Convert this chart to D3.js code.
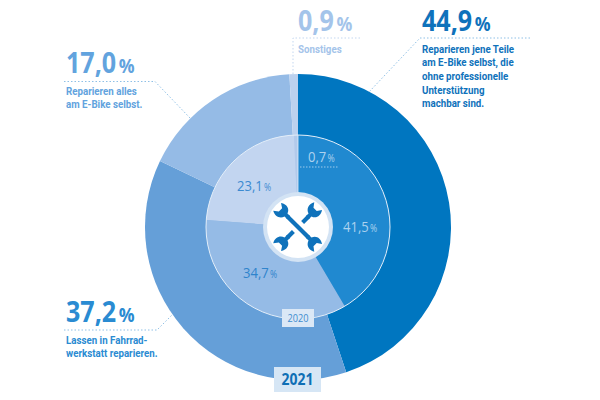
<!DOCTYPE html>
<html><head><meta charset="utf-8">
<script src="https://cdn.jsdelivr.net/npm/d3@7"></script>
<style>html,body{margin:0;background:#fff}svg{display:block}text{font-family:"Open Sans",sans-serif}</style>
</head><body><svg id="c" width="600" height="400"></svg>
<script>
const categories=["Teile selbst","Fahrradwerkstatt","Alles selbst","Sonstiges"];
const values2021=[44.9,37.2,17.0,0.9];
const values2020=[41.5,34.7,23.1,0.7];
const outerColors=["#0076c0","#659fd8","#95bbe6","#bcd1ee"];
const innerColors=["#2089d0","#95bbe6","#c2d5f0","#b2caeb"];
const captions=[
 ["Reparieren jene Teile","am E-Bike selbst, die","ohne professionelle","Unterstützung","machbar sind."],
 ["Lassen in Fahrrad-","werkstatt reparieren."],
 ["Reparieren alles","am E-Bike selbst."],
 ["Sonstiges"]];
const labelColors=["#0f72bb","#2a8bd2","#62a3de","#a4c4ea"];
const calloutX=[422,66,66,298];
const calloutY=[31,322,73,31];
const leaders=[
 [[530,38],[420,38],[369,92]],
 [[64,330],[157,330],[172,315]],
 [[64,81.5],[155,81.5],[190,118]],
 [[360,38],[293,38],[293,75]]];
const innerLabelPos=[[343,232],[243,278],[237,191],[308,162]];
const innerLabelColors=["#acd2ef","#2f84cc","#3c8ad0","#acd2ef"];
const fmt=v=>d3.format(".1f")(v).replace(".",",");

const svg=d3.select("#c");
const cx=298,cy=227;
const g=svg.append("g").attr("transform",`translate(${cx},${cy})`);
const pie=d3.pie().sort(null).value(d=>d);
g.selectAll(".o").data(pie(values2021)).join("path").attr("class","o")
 .attr("d",d3.arc().innerRadius(0).outerRadius(153)).attr("fill",(d,i)=>outerColors[i]);
g.selectAll(".i").data(pie(values2020)).join("path").attr("class","i")
 .attr("d",d3.arc().innerRadius(0).outerRadius(92)).attr("fill",(d,i)=>innerColors[i]);
g.append("circle").attr("r",92).attr("fill","none").attr("stroke","#e3eef9").attr("stroke-width",1);
g.append("line").attr("y1",-92).attr("y2",0).attr("stroke","#e3eef9").attr("stroke-width",.8);
g.append("circle").attr("r",35).attr("fill","#d3e3f4");
g.append("circle").attr("r",31).attr("fill","#fff");

// wrenches
const ink="#0f72bb";
function wrench(rot,gap){
 const w=g.append("g").attr("transform",`rotate(${rot})`);
 const headPath=s=>`M-2.1 ${s*13} L-2.1 ${s*17} C-7 ${s*18.5} -9 ${s*24} -6 ${s*29} L-2.6 ${s*24.5} L2 ${s*24.5} L5 ${s*29} C8.5 ${s*24} 7 ${s*18.5} 2.1 ${s*17} L2.1 ${s*13} Z`;
 if(gap){
  w.append("rect").attr("x",-2.1).attr("y",-15).attr("width",4.2).attr("height",8.5).attr("fill",ink);
  w.append("rect").attr("x",-2.1).attr("y",6.5).attr("width",4.2).attr("height",8.5).attr("fill",ink);
 } else {
  w.append("rect").attr("x",-2.1).attr("y",-15).attr("width",4.2).attr("height",30).attr("fill",ink);
 }
 [-1,1].forEach(s=>w.append("path").attr("d",headPath(s)).attr("fill",ink));
}
wrench(45,true);
wrench(-45,false);

const txt=(x,y,sx,size,weight,col,anchor,font)=>svg.append("text")
 .attr("transform",`translate(${x},${y}) scale(${sx},1)`)
 .attr("text-anchor",anchor||"start").attr("font-size",size).attr("font-weight",weight).attr("fill",col)
 .style("font-family",font||null);

// year boxes
const box=(x,y,w,h,fill,t,size,weight,col)=>{
 svg.append("rect").attr("x",x).attr("y",y).attr("width",w).attr("height",h).attr("fill",fill);
 txt(x+w/2,y+h/2+size*.36,.87,size,weight,col,"middle").text(t);
};
box(282,309,32,18,"#dbe8f6","2020",10.5,400,"#3f8dcf");
box(274,367,47,25,"#d6e6f5","2021",16,700,"#0f6fb5");

// inner labels
values2020.forEach((v,i)=>{
 const t=txt(innerLabelPos[i][0],innerLabelPos[i][1],.87,15,400,innerLabelColors[i]).text(fmt(v));
 t.append("tspan").attr("font-size",10).attr("dx",1.5).text("%");
});
svg.append("line").attr("x1",300).attr("x2",338).attr("y1",167).attr("y2",167)
 .attr("stroke","#bcdcf3").attr("stroke-width",.8).attr("stroke-dasharray","1.5 1.5");

// callouts
const line=d3.line();
values2021.forEach((v,i)=>{
 const c=labelColors[i];
 svg.append("path").attr("d",line(leaders[i])).attr("fill","none").attr("stroke",i===3?"#c3d7f0":"#8fc0e6")
  .attr("stroke-width",1).attr("stroke-dasharray","1.5 2");
 const t=txt(calloutX[i],calloutY[i],.88,28.5,700,c).text(fmt(v));
 t.append("tspan").attr("font-size",20).attr("dx",3).text("%");
 captions[i].forEach((s,k)=>{
  txt(calloutX[i],calloutY[i]+21.5+k*13.7,.84,11.6,700,c,"start","Roboto").text(s);
 });
});
</script></body></html>
